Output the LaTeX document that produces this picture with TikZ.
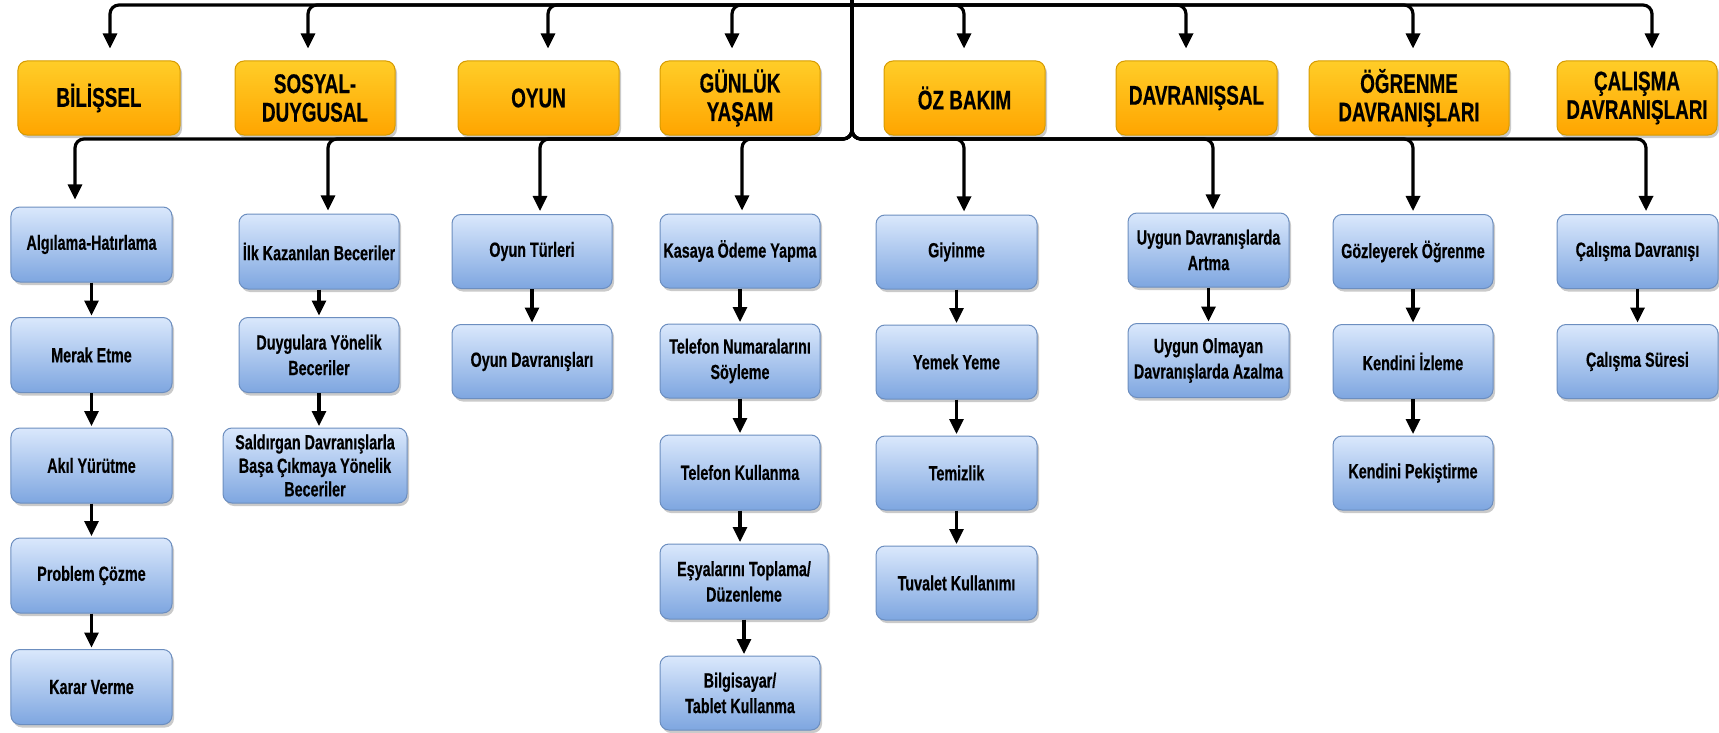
\documentclass[tikz,border=0pt]{standalone}
\usepackage{fontspec}
\setmainfont{Liberation Sans}[FakeStretch=0.70, BoldFeatures={FakeBold=0.4}]
\usetikzlibrary{arrows.meta,shadows}

\definecolor{catTop}{HTML}{FFCD28}
\definecolor{catBot}{HTML}{FFA500}
\definecolor{catLine}{HTML}{D79B00}
\definecolor{itemTop}{HTML}{DAE8FC}
\definecolor{itemBot}{HTML}{7EA6E0}
\definecolor{itemLine}{HTML}{6C8EBF}

\tikzset{
  edge/.style={draw=black, line width=3.2bp, rounded corners=9bp,
    -{Triangle[length=15bp,width=14bp]}},
  box/.style={rounded corners=9bp, line width=1bp, align=center, inner sep=2bp,
    drop shadow={shadow xshift=2bp, shadow yshift=-3bp, opacity=0.35, fill=black!60}},
  cat/.style={box, top color=catTop, bottom color=catBot, draw=catLine,
    font=\fontsize{27bp}{28.5bp}\selectfont\bfseries, minimum height=74bp},
  item/.style={box, top color=itemTop, bottom color=itemBot, draw=itemLine,
    font=\fontsize{20.5bp}{25.5bp}\selectfont\bfseries, minimum height=75bp, minimum width=161bp},
}

\begin{document}
\begin{tikzpicture}[x=1bp, y=-1bp]
\useasboundingbox (0,0) rectangle (1719,733);

% root of the tree, at the top edge
\coordinate (root) at (852,0);

% category boxes
\node[cat, minimum width=162bp] (bil)  at (99,98)     {BİLİŞSEL};
\node[cat, minimum width=160bp] (sos)  at (315,98)    {SOSYAL-\\DUYGUSAL};
\node[cat, minimum width=161bp] (oyun) at (538.5,98)  {OYUN};
\node[cat, minimum width=160bp] (gun)  at (740,98)    {GÜNLÜK\\YAŞAM};
\node[cat, minimum width=161bp] (oz)   at (964.5,98)  {ÖZ BAKIM};
\node[cat, minimum width=161bp] (dav)  at (1196.5,98) {DAVRANIŞSAL};
\node[cat, minimum width=200bp] (ogr)  at (1409,98)   {ÖĞRENME\\DAVRANIŞLARI};
\node[cat, minimum width=160bp] (cal)  at (1637,98)   {ÇALIŞMA\\DAVRANIŞLARI};

% Bilişsel column
\node[item] (a1) at (91.5,244.5) {Algılama-Hatırlama};
\node[item] (a2) at (91.5,355)   {Merak Etme};
\node[item] (a3) at (91.5,465.5) {Akıl Yürütme};
\node[item] (a4) at (91.5,575.5) {Problem Çözme};
\node[item] (a5) at (91.5,687)   {Karar Verme};

% Sosyal-duygusal column
\node[item, minimum width=160bp] (b1) at (319,251.5) {İlk Kazanılan Beceriler};
\node[item, minimum width=160bp] (b2) at (319,355)   {Duygulara Yönelik\\Beceriler};
\node[item, minimum width=184bp, font=\fontsize{20.5bp}{23.5bp}\selectfont\bfseries] (b3) at (315,465.5)
  {Saldırgan Davranışlarla\\Başa Çıkmaya Yönelik\\Beceriler};

% Oyun column
\node[item, minimum width=160bp, minimum height=74bp] (c1) at (532,251.5) {Oyun Türleri};
\node[item, minimum width=160bp, minimum height=74bp] (c2) at (532,361.5) {Oyun Davranışları};

% Günlük yaşam column
\node[item, minimum width=160bp, minimum height=74bp] (d1) at (740,251)   {Kasaya Ödeme Yapma};
\node[item, minimum width=160bp, minimum height=74bp] (d2) at (740,361)   {Telefon Numaralarını\\Söyleme};
\node[item, minimum width=160bp] (d3) at (740,472.5) {Telefon Kullanma};
\node[item, minimum width=168bp] (d4) at (744,581.5) {Eşyalarını Toplama/\\Düzenleme};
\node[item, minimum width=160bp, minimum height=74bp] (d5) at (740,693) {Bilgisayar/\\Tablet Kullanma};

% Öz bakım column
\node[item, minimum height=74bp] (e1) at (956.5,252) {Giyinme};
\node[item, minimum height=74bp] (e2) at (956.5,362) {Yemek Yeme};
\node[item, minimum height=74bp] (e3) at (956.5,473) {Temizlik};
\node[item, minimum height=74bp] (e4) at (956.5,583) {Tuvalet Kullanımı};

% Davranışsal column
\node[item, minimum height=74bp] (f1) at (1208.5,250)   {Uygun Davranışlarda\\Artma};
\node[item, minimum height=74bp] (f2) at (1208.5,360.5) {Uygun Olmayan\\Davranışlarda Azalma};

% Öğrenme davranışları column
\node[item, minimum width=160bp, minimum height=74bp] (g1) at (1413,251.5) {Gözleyerek Öğrenme};
\node[item, minimum width=160bp, minimum height=74bp] (g2) at (1413,361.5) {Kendini İzleme};
\node[item, minimum width=160bp, minimum height=74bp] (g3) at (1413,473)   {Kendini Pekiştirme};

% Çalışma davranışları column
\node[item, minimum height=74bp] (h1) at (1637.5,251.5) {Çalışma Davranışı};
\node[item, minimum height=74bp] (h2) at (1637.5,361.5) {Çalışma Süresi};

% upper bus: root to the category boxes
\foreach \n/\x in {bil/110, sos/308, oyun/548, gun/732, oz/964, dav/1186, ogr/1413, cal/1652}
  \draw[edge, shorten >=12bp] (root) ++(0,5) -| (\n.north -| \x,0);

% lower bus: root to the first box of each column
\draw[edge, shorten >=7bp] (root) -- (852,139) -| (a1.north -| 75,0);
\foreach \n/\x in {b1/328, c1/540, d1/742, e1/964, f1/1213, g1/1413, h1/1646}
  \draw[edge, shorten >=3bp] (root) -- (852,139) -| (\n.north -| \x,0);

% arrows inside the columns
\foreach \a/\b in {a1/a2, a2/a3, a3/a4, a4/a5, b1/b2, b2/b3, c1/c2,
                   d1/d2, d2/d3, d3/d4, d4/d5, e1/e2, e2/e3, e3/e4,
                   f1/f2, g1/g2, g2/g3, h1/h2}
  \draw[edge, shorten >=1.5bp] (\a.south) -- (\a.south |- \b.north);
\end{tikzpicture}
\end{document}
